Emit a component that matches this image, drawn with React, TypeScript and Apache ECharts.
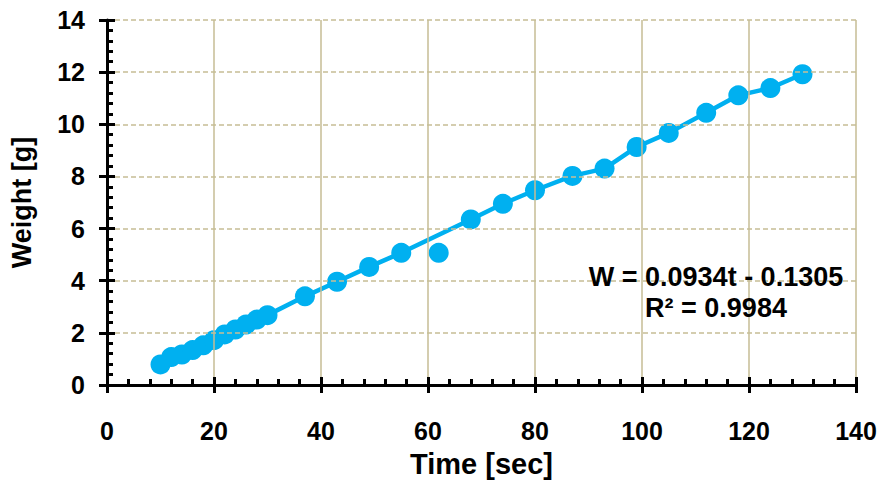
import React, { useEffect, useRef } from "react";
import * as echarts from "echarts";

const timeSec = [10, 12, 14, 16, 18, 20, 22, 24, 26, 28, 30, 37, 43, 49, 55, 68, 74, 80, 87, 93, 99, 105, 112, 118, 124, 130];
const weightG = [0.79, 1.07, 1.17, 1.34, 1.52, 1.72, 1.94, 2.13, 2.32, 2.51, 2.68, 3.4, 3.96, 4.53, 5.07, 6.35, 6.95, 7.47, 8.02, 8.3, 9.13, 9.67, 10.44, 11.11, 11.39, 11.92];
const outlierTime = [62];
const outlierWeight = [5.07];
const equationLines = ["W = 0.0934t - 0.1305", "R² = 0.9984"];
const xTitle = "Time [sec]";
const yTitle = "Weight [g]";

const FONT = "'Liberation Sans', Arial, sans-serif";
const BLUE = "#00b0f0";
const TAN = "#c6bd95";

export default function App() {
  const ref = useRef<HTMLDivElement>(null);
  useEffect(() => {
    if (!ref.current) return;
    const chart = echarts.init(ref.current, undefined, { renderer: "svg" });
    const mainPts = timeSec.map((t, i) => [t, weightG[i]]);
    const outPts = outlierTime.map((t, i) => [t, outlierWeight[i]]);
    const baseX = { type: "value", min: 0, max: 140, interval: 20, position: "bottom" };
    const baseY = { type: "value", min: 0, max: 14, interval: 2, position: "left" };
    chart.setOption({
      animation: false,
      backgroundColor: "#ffffff",
      grid: { left: 106, right: 27, top: 20, bottom: 95.5, containLabel: false },
      xAxis: [
        {
          ...baseX,
          name: xTitle,
          nameLocation: "middle",
          nameGap: 64,
          nameTextStyle: { fontFamily: FONT, fontWeight: "bold", fontSize: 29, color: "#000" },
          axisLine: { show: true, onZero: false, lineStyle: { color: "#000", width: 3 } },
          axisTick: { show: true, inside: false, length: 8, lineStyle: { color: "#000", width: 3 } },
          axisLabel: { fontFamily: FONT, fontWeight: "bold", fontSize: 25, color: "#000", margin: 33 },
          splitLine: { show: true, lineStyle: { color: TAN, width: 1.5, type: "solid" } },
          z: 5,
        },
        {
          ...baseX,
          axisLine: { show: false, onZero: false },
          axisTick: { show: true, inside: true, length: 8, lineStyle: { color: "#000", width: 3 } },
          minorTick: { show: true, splitNumber: 5, length: 6, lineStyle: { color: "#000", width: 3 } },
          axisLabel: { show: false },
          splitLine: { show: false },
          z: 5,
        },
      ],
      yAxis: [
        {
          ...baseY,
          name: yTitle,
          nameLocation: "middle",
          nameGap: 72,
          nameRotate: 90,
          nameTextStyle: { fontFamily: FONT, fontWeight: "bold", fontSize: 27, color: "#000" },
          axisLine: { show: true, onZero: false, lineStyle: { color: "#000", width: 3 } },
          axisTick: { show: true, inside: false, length: 8, lineStyle: { color: "#000", width: 3 } },
          axisLabel: { fontFamily: FONT, fontWeight: "bold", fontSize: 25, color: "#000", margin: 22 },
          splitLine: { show: true, lineStyle: { color: TAN, width: 1.5, type: [5, 3] } },
          z: 5,
        },
        {
          ...baseY,
          axisLine: { show: false, onZero: false },
          axisTick: { show: true, inside: true, length: 8, lineStyle: { color: "#000", width: 3 } },
          minorTick: { show: true, splitNumber: 5, length: 6, lineStyle: { color: "#000", width: 3 } },
          axisLabel: { show: false },
          splitLine: { show: false },
          z: 5,
        },
      ],
      series: [
        {
          type: "line",
          xAxisIndex: 0,
          yAxisIndex: 0,
          data: mainPts,
          symbol: "circle",
          symbolSize: 20,
          showSymbol: true,
          lineStyle: { color: BLUE, width: 4.5 },
          itemStyle: { color: BLUE, opacity: 1 },
          z: 3,
        },
        {
          type: "scatter",
          xAxisIndex: 0,
          yAxisIndex: 0,
          data: outPts,
          symbol: "circle",
          symbolSize: 20,
          itemStyle: { color: BLUE, opacity: 1 },
          z: 3,
        },
      ],
      graphic: [
        {
          type: "text",
          x: 716,
          y: 277,
          style: {
            text: equationLines[0],
            fontFamily: FONT,
            fontWeight: "bold",
            fontSize: 27,
            fill: "#000",
            textAlign: "center",
            textVerticalAlign: "middle",
          },
          z: 10,
        },
        {
          type: "text",
          x: 716,
          y: 308,
          style: {
            text: equationLines[1],
            fontFamily: FONT,
            fontWeight: "bold",
            fontSize: 27,
            fill: "#000",
            textAlign: "center",
            textVerticalAlign: "middle",
          },
          z: 10,
        },
      ],
    });
    return () => chart.dispose();
  }, []);
  return <div ref={ref} style={{ position: "fixed", left: 0, top: 0, width: 883, height: 483 }} />;
}
